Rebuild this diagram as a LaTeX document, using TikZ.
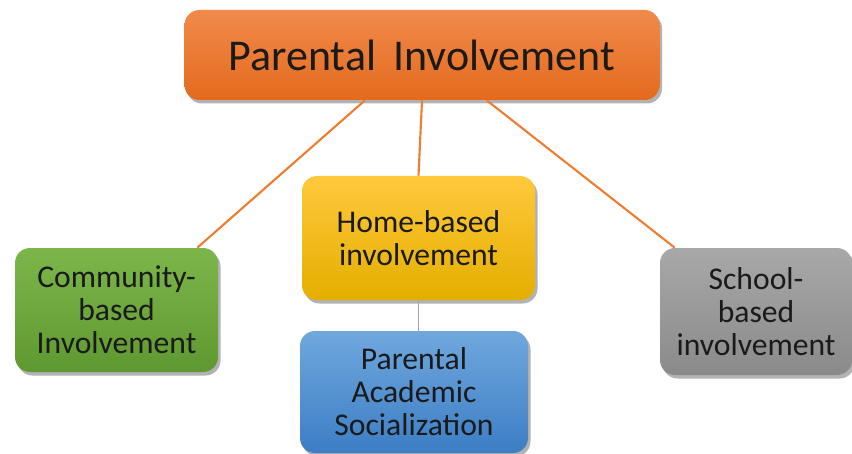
\documentclass[tikz,border=0pt]{standalone}
\usepackage{fontspec}
\setmainfont{Carlito}
\usetikzlibrary{calc}
\usetikzlibrary{shadows}
\definecolor{linkorange}{HTML}{ED7D31}
\definecolor{linkgray}{HTML}{A5A5A5}
\definecolor{inktext}{HTML}{1A1A1A}
\tikzset{
	box/.style={rounded corners=0.3cm, align=center, text=inktext, inner sep=0pt,
		drop shadow={shadow xshift=0.05cm, shadow yshift=-0.07cm, opacity=0.3, fill=black},
		font=\fontsize{18}{18.8}\selectfont},
	link/.style={draw=linkorange, line width=1.2pt},
}

\begin{document}
\begin{tikzpicture}
	%\draw[help lines] (0,0) grid (17,9);
	\useasboundingbox (0,0) rectangle (17.04,9.06);

	\node[box, minimum width=9.5cm, minimum height=1.8cm, top color={rgb,255:red,241;green,138;blue,76}, bottom color={rgb,255:red,228;green,106;blue,28}, font=\fontsize{25}{27}\selectfont] (parinv) at (8.44,7.96) {Parental\, Involvement};%top

	\node[box, minimum width=4.06cm, minimum height=2.48cm, top color={rgb,255:red,124;green,182;blue,75}, bottom color={rgb,255:red,94;green,152;blue,48}] (community) at (2.33,2.86) {Community-\\based\\Involvement};%left
	\node[box, minimum width=4.66cm, minimum height=2.48cm, top color={rgb,255:red,255;green,201;blue,60}, bottom color={rgb,255:red,228;green,174;blue,0}] (home) at (8.37,4.30) {Home-based\\involvement};%middle
	\node[box, minimum width=4.56cm, minimum height=2.44cm, top color={rgb,255:red,112;green,168;blue,222}, bottom color={rgb,255:red,60;green,125;blue,196}] (socialization) at (8.28,1.22) {Parental\\Academic\\Socialization};%below middle
	\node[box, minimum width=3.84cm, minimum height=2.54cm, top color={rgb,255:red,168;green,168;blue,168}, bottom color={rgb,255:red,138;green,138;blue,138}] (school) at (15.12,2.83) {School-\\based\\involvement};%right

	\draw[link] ($(parinv.south west)!0.38!(parinv.south east)$) -- ([xshift=-0.42cm]community.north east);
	\draw[link] (parinv.south) -- (home.north);
	\draw[link] ($(parinv.south west)!0.636!(parinv.south east)$) -- ([xshift=0.3cm]school.north west);
	\draw[draw=linkgray, line width=1.1pt] (home.south) -- (home.south |- socialization.north);
\end{tikzpicture}
\end{document}
